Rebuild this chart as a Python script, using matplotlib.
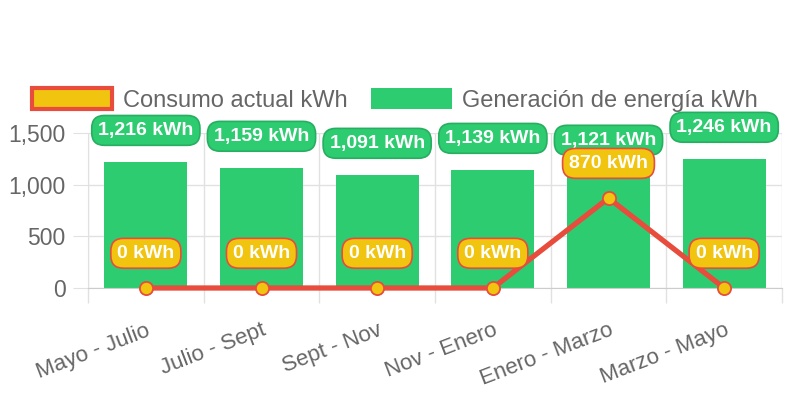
import matplotlib.pyplot as plt
from matplotlib.patches import Patch

plt.rcParams['font.family'] = ['Liberation Sans', 'DejaVu Sans']

periodos = ['Mayo - Julio', 'Julio - Sept', 'Sept - Nov', 'Nov - Enero', 'Enero - Marzo', 'Marzo - Mayo']
generacion = [1216, 1159, 1091, 1139, 1121, 1246]
consumo = [0, 0, 0, 0, 870, 0]

verde = '#2ecc71'
verde_borde = '#27ae60'
amarillo = '#f1c40f'
rojo = '#e74c3c'
gris = '#666666'
rejilla = '#e1e1e1'

fig = plt.figure(figsize=(7.92, 3.96), dpi=100)
ax = fig.add_axes([88 / 792, 108 / 396, 694 / 792, 155 / 396])

x = list(range(len(periodos)))
ax.bar(x, generacion, width=0.72, color=verde, zorder=2)
ax.plot(x, consumo, color=rojo, linewidth=3.8, marker='o', markersize=9.5,
        markerfacecolor=amarillo, markeredgecolor=rojo, markeredgewidth=1.3,
        zorder=3, clip_on=False)

ax.set_xlim(-0.5, len(periodos) - 0.5)
ax.set_ylim(0, 1500)
ax.set_yticks([0, 500, 1000, 1500])
ax.set_yticklabels(['0', '500', '1,000', '1,500'])
ax.set_xticks([i - 0.5 for i in range(len(periodos) + 1)], minor=False)
ax.set_xticklabels([])
ax.set_xticks(x, minor=True)
ax.set_xticklabels(periodos, minor=True, rotation=21, ha='right',
                   rotation_mode='anchor', fontsize=16, color=gris)
ax.tick_params(axis='x', which='minor', length=0, pad=23)
ax.tick_params(axis='x', which='major', length=10.5, color=rejilla, width=1)
ax.tick_params(axis='y', length=10.5, color=rejilla, labelsize=16.5, labelcolor=gris, pad=5.5)
ax.grid(True, which='major', color=rejilla, linewidth=1, zorder=0)
for s in ['top', 'right']:
    ax.spines[s].set_visible(False)
ax.spines['left'].set_color(rejilla)
ax.spines['bottom'].set_color('#cccccc')

for xi, v in zip(x, generacion):
    ax.annotate(f'{v:,} kWh', (xi, v), xytext=(0, 23), textcoords='offset points',
                ha='center', va='center', fontsize=14, fontweight='bold', color='white',
                bbox=dict(boxstyle='round,pad=0.33,rounding_size=0.65', fc=verde, ec=verde_borde, lw=1.2),
                zorder=5, annotation_clip=False)

for xi, v in zip(x, consumo):
    ax.annotate(f'{v:,} kWh', (xi, v), xytext=(0, 25), textcoords='offset points',
                ha='center', va='center', fontsize=14, fontweight='bold', color='white',
                bbox=dict(boxstyle='round,pad=0.33,rounding_size=0.65', fc=amarillo, ec=rojo, lw=1.2),
                zorder=6, annotation_clip=False)

handles = [Patch(facecolor=amarillo, edgecolor=rojo, linewidth=3, label='Consumo actual kWh'),
           Patch(facecolor=verde, edgecolor=verde, linewidth=0, label='Generación de energía kWh')]
fig.legend(handles=handles, loc='center', bbox_to_anchor=(395 / 792, 1 - 100 / 396), ncol=2,
           frameon=False, fontsize=17, labelcolor=gris, handlelength=3.4, handleheight=0.95,
           handletextpad=0.45, columnspacing=1.0)

fig.savefig('out.png', dpi=100)
